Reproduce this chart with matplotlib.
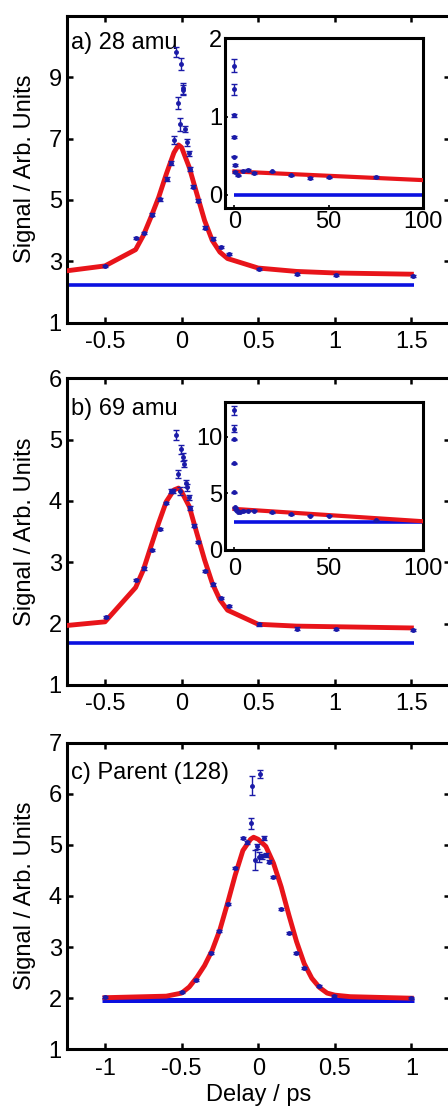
import matplotlib
matplotlib.use("Agg")
import matplotlib.pyplot as plt
import numpy as np

plt.rcParams['font.family'] = ['Liberation Sans', 'DejaVu Sans']

# ---- a) 28 amu ----
a_x = [-0.5, -0.3, -0.245, -0.195, -0.143, -0.095, -0.069, -0.048, -0.035, -0.022,
       -0.013, -0.002, 0.006, 0.012, 0.024, 0.037, 0.048, 0.056, 0.076, 0.106,
       0.156, 0.203, 0.255, 0.307, 0.502, 0.755, 1.006, 1.509]
a_y = [2.85, 3.76, 3.93, 4.52, 5.02, 5.68, 6.2, 6.94, 9.82, 8.16,
       7.46, 9.42, 8.63, 8.58, 7.31, 6.87, 6.52, 6.0, 5.43, 4.98,
       4.1, 3.74, 3.46, 3.24, 2.76, 2.58, 2.55, 2.53]
a_err = [0.03, 0.03, 0.04, 0.04, 0.04, 0.06, 0.07, 0.13, 0.17, 0.2,
         0.2, 0.2, 0.19, 0.15, 0.1, 0.1, 0.08, 0.06, 0.05, 0.04,
         0.04, 0.04, 0.04, 0.04, 0.03, 0.03, 0.03, 0.03]
a_fit_x = [-0.75, -0.5, -0.3, -0.25, -0.2, -0.15, -0.1, -0.05, -0.02, 0.0,
           0.05, 0.1, 0.15, 0.2, 0.25, 0.3, 0.5, 0.75, 1.0, 1.5]
a_fit_y = [2.69, 2.85, 3.38, 3.84, 4.44, 5.08, 5.84, 6.54, 6.79, 6.71,
           6.06, 5.19, 4.33, 3.68, 3.30, 3.09, 2.78, 2.67, 2.62, 2.58]
a_base = 2.22

a_in_x = [0, 0, 0, 0, 0, 0.5, 0.5, 2, 4.8, 7.3, 10.2, 20, 29.8, 40, 50, 75]
a_in_y = [1.65, 1.35, 1.02, 0.74, 0.49, 0.38, 0.29, 0.25, 0.31, 0.32, 0.28, 0.30, 0.25, 0.22, 0.225, 0.23]
a_in_err = [0.08, 0.07, 0.02, 0.01, 0.01, 0.01, 0.01, 0.01, 0.01, 0.01, 0.01, 0.01, 0.01, 0.01, 0.01, 0.01]
a_in_fit_x = [0, 100]
a_in_fit_y = [0.30, 0.19]
a_in_base = 0.0

# ---- b) 69 amu ----
b_x = [-0.491, -0.297, -0.245, -0.195, -0.143, -0.1, -0.069, -0.054, -0.039, -0.022,
       -0.011, -0.002, 0.009, 0.013, 0.026, 0.037, 0.048, 0.056, 0.08, 0.108,
       0.156, 0.203, 0.255, 0.307, 0.502, 0.755, 1.006, 1.509]
b_y = [2.11, 2.71, 2.90, 3.20, 3.54, 3.97, 4.16, 4.16, 5.08, 4.44,
       4.16, 4.84, 4.72, 4.61, 4.29, 4.22, 4.06, 3.89, 3.60, 3.33,
       2.86, 2.64, 2.42, 2.29, 1.99, 1.92, 1.91, 1.90]
b_err = [0.02, 0.02, 0.02, 0.02, 0.02, 0.02, 0.03, 0.03, 0.08, 0.07,
         0.06, 0.07, 0.07, 0.06, 0.06, 0.05, 0.04, 0.03, 0.03, 0.02,
         0.02, 0.02, 0.02, 0.02, 0.02, 0.02, 0.02, 0.02]
b_fit_x = a_fit_x
b_fit_y = [1.97, 2.03, 2.59, 2.875, 3.26, 3.64, 3.99, 4.18, 4.21, 4.15,
           3.91, 3.47, 3.04, 2.66, 2.39, 2.22, 1.99, 1.96, 1.95, 1.93]
b_base = 1.69

b_in_x = [0, 0, 0, 0, 0, 0.5, 1, 2, 3, 4.8, 7.3, 10.2, 20, 29.8, 40, 50, 75]
b_in_y = [12.34, 10.7, 9.77, 7.66, 5.09, 3.77, 3.57, 3.39, 3.39, 3.45, 3.48, 3.48, 3.33, 3.16, 3.04, 3.01, 2.63]
b_in_err = [0.4, 0.3, 0.05, 0.05, 0.05, 0.05, 0.05, 0.05, 0.05, 0.05, 0.05, 0.05, 0.05, 0.05, 0.05, 0.05, 0.05]
b_in_fit_x = [0, 100]
b_in_fit_y = [3.63, 2.54]
b_in_base = 2.46

# ---- c) Parent (128) ----
c_x = [-1.0, -0.5, -0.403, -0.308, -0.254, -0.2, -0.15, -0.1, -0.075, -0.049,
       -0.038, -0.021, -0.005, 0.005, 0.012, 0.025, 0.038, 0.049, 0.072, 0.098,
       0.148, 0.198, 0.248, 0.297, 0.397, 0.498, 1.0]
c_y = [2.03, 2.13, 2.36, 2.88, 3.32, 3.85, 4.54, 5.13, 5.05, 5.42,
       6.16, 4.70, 4.97, 4.77, 6.38, 4.78, 5.13, 4.80, 4.67, 4.38,
       3.74, 3.27, 2.89, 2.60, 2.23, 2.05, 2.01]
c_err = [0.02, 0.02, 0.02, 0.02, 0.02, 0.02, 0.02, 0.02, 0.03, 0.1,
         0.19, 0.2, 0.05, 0.1, 0.08, 0.05, 0.04, 0.04, 0.03, 0.02,
         0.02, 0.02, 0.02, 0.02, 0.02, 0.02, 0.02]
c_fit_x = [-1.0, -0.6, -0.5, -0.45, -0.4, -0.35, -0.3, -0.25, -0.2, -0.15, -0.1, -0.05,
           -0.03, 0.0, 0.05, 0.1, 0.15, 0.2, 0.25, 0.3, 0.35, 0.4, 0.45, 0.5, 0.6, 1.0]
c_fit_y = [2.01, 2.04, 2.10, 2.22, 2.41, 2.64, 2.94, 3.34, 3.86, 4.41, 4.89, 5.11,
           5.15, 5.11, 4.97, 4.64, 4.18, 3.63, 3.11, 2.68, 2.39, 2.21, 2.10, 2.06, 2.03, 2.00]
c_base = 1.97

RED = '#e8141a'
BLUE = '#0a10e0'
DOT = '#1a1aa8'
FS = 17


def style(ax, lw=2.2):
    for s in ax.spines.values():
        s.set_linewidth(lw)
    ax.tick_params(direction='in', top=True, right=True, length=4, width=1.8,
                   labelsize=FS)


def draw(ax, x, y, err, fx, fy, base, bx, base_lw=2.6):
    ax.plot(bx, [base, base], color=BLUE, lw=base_lw, solid_capstyle='butt', zorder=2)
    ax.plot(fx, fy, color=RED, lw=3.5, zorder=3)
    ax.errorbar(x, y, yerr=err, fmt='.', color=DOT, ms=5, elinewidth=1.0,
                capsize=2.2, capthick=1.0, zorder=4)


def inset(ax, x, y, err, fx, fy, base, ylim, yticks, pad):
    ax.plot([0, 100], [base, base], color=BLUE, lw=2.6, solid_capstyle='butt', zorder=2)
    ax.plot(fx, fy, color=RED, lw=3.0, zorder=3)
    ax.errorbar(x, y, yerr=err, fmt='.', color=DOT, ms=5, elinewidth=1.0,
                capsize=2.2, capthick=1.0, zorder=4)
    ax.set_xlim(-5, 100)
    ax.set_ylim(*ylim)
    ax.set_xticks([0, 50, 100])
    ax.set_yticks(yticks)
    style(ax, 2.2)
    ax.tick_params(top=False, right=False, length=2.5, width=1.2, labelsize=FS)
    ax.tick_params(axis='x', pad=pad)
    ax.tick_params(axis='y', pad=2)


fig = plt.figure(figsize=(4.48, 11.06), dpi=100)
W, H = 448.0, 1106.0
left, right = 66.7, 449.7


def main_axes(top, bottom):
    return fig.add_axes([left / W, 1 - bottom / H, (right - left) / W, (bottom - top) / H])


def inset_axes(l, r, top, bottom):
    return fig.add_axes([l / W, 1 - bottom / H, (r - l) / W, (bottom - top) / H])


ylab = 'Signal / Arb. Units'

# panel a
ax = main_axes(15.7, 322.7)
draw(ax, a_x, a_y, a_err, a_fit_x, a_fit_y, a_base, [-0.75, 1.52])
ax.set_xlim(-0.75, 1.75)
ax.set_ylim(1, 11)
ax.set_xticks([-0.5, 0, 0.5, 1, 1.5])
ax.set_xticklabels(['-0.5', '0', '0.5', '1', '1.5'])
ax.set_yticks([1, 3, 5, 7, 9])
style(ax)
ax.tick_params(axis='x', pad=6)
ax.set_ylabel(ylab, fontsize=FS)
ax.yaxis.set_label_coords(-0.08, 0.5)
ax.text(0.011, 0.911, 'a) 28 amu', transform=ax.transAxes, fontsize=FS, va='center')

axi = inset_axes(225, 422.7, 38.3, 208.3)
inset(axi, a_in_x, a_in_y, a_in_err, a_in_fit_x, a_in_fit_y, a_in_base,
      (-0.17, 2), [0, 1, 2], 2)

# panel b
ax = main_axes(378.3, 685)
draw(ax, b_x, b_y, b_err, b_fit_x, b_fit_y, b_base, [-0.75, 1.52])
ax.set_xlim(-0.75, 1.75)
ax.set_ylim(1, 6)
ax.set_xticks([-0.5, 0, 0.5, 1, 1.5])
ax.set_xticklabels(['-0.5', '0', '0.5', '1', '1.5'])
ax.set_yticks([1, 2, 3, 4, 5, 6])
style(ax)
ax.tick_params(axis='x', pad=6)
ax.set_ylabel(ylab, fontsize=FS)
ax.yaxis.set_label_coords(-0.08, 0.5)
ax.text(0.011, 0.899, 'b) 69 amu', transform=ax.transAxes, fontsize=FS, va='center')

axi = inset_axes(225, 422.7, 401.7, 550)
inset(axi, b_in_x, b_in_y, b_in_err, b_in_fit_x, b_in_fit_y, b_in_base,
      (0, 13.1), [0, 5, 10], 6)

# panel c
ax = main_axes(742.7, 1049.3)
draw(ax, c_x, c_y, c_err, c_fit_x, c_fit_y, c_base, [-1.02, 1.02], base_lw=3.6)
ax.set_xlim(-1.25, 1.25)
ax.set_ylim(1, 7)
ax.set_xticks([-1, -0.5, 0, 0.5, 1])
ax.set_xticklabels(['-1', '-0.5', '0', '0.5', '1'])
ax.set_yticks([1, 2, 3, 4, 5, 6, 7])
style(ax)
ax.tick_params(axis='x', pad=6)
ax.set_ylabel(ylab, fontsize=FS)
ax.yaxis.set_label_coords(-0.08, 0.5)
ax.set_xlabel('Delay / ps', fontsize=FS)
ax.xaxis.set_label_coords(0.5, -0.112)
ax.text(0.011, 0.902, 'c) Parent (128)', transform=ax.transAxes, fontsize=FS, va='center')

fig.savefig('out.png', dpi=100)
